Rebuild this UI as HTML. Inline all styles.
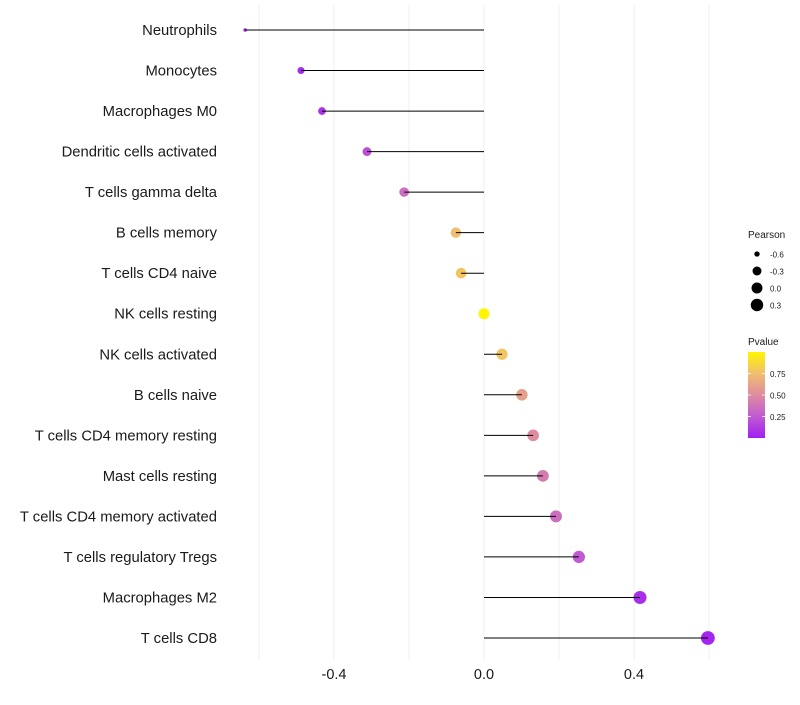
<!DOCTYPE html>
<html><head><meta charset="utf-8"><style>
body{margin:0;background:#fff;font-family:"Liberation Sans",sans-serif}
</style></head><body>
<svg id="c" width="800" height="700" xmlns="http://www.w3.org/2000/svg" font-family="Liberation Sans, sans-serif"></svg>
<script>
const categories=["Neutrophils","Monocytes","Macrophages M0","Dendritic cells activated","T cells gamma delta","B cells memory","T cells CD4 naive","NK cells resting","NK cells activated","B cells naive","T cells CD4 memory resting","Mast cells resting","T cells CD4 memory activated","T cells regulatory  Tregs","Macrophages M2","T cells CD8"];
const pearson=[-0.637,-0.488,-0.432,-0.312,-0.213,-0.075,-0.061,0.0,0.048,0.101,0.131,0.157,0.192,0.253,0.416,0.597];
const pvalues=[0.02,0.05,0.08,0.2,0.35,0.75,0.78,1.0,0.78,0.6,0.5,0.42,0.35,0.25,0.06,0.02];
const xTicks=[-0.4,0.0,0.4];
const gridVals=[-0.6,-0.4,-0.2,0,0.2,0.4,0.6];
const sizeLegend=[-0.6,-0.3,0.0,0.3];
const colorTicks=[0.25,0.5,0.75];

const NS="http://www.w3.org/2000/svg";
const svg=document.getElementById('c');
function mk(t,a,p){const e=document.createElementNS(NS,t);for(const k in a)e.setAttribute(k,a[k]);(p||svg).appendChild(e);return e;}
const xS=v=>484+v*375;
const yS=i=>30+i*(608/15);
const rS=v=>1.8+4.6*Math.sqrt(Math.max(0,v+0.637));
const stops=[[0,[160,32,240]],[0.25,[192,90,210]],[0.5,[222,140,160]],[0.75,[240,190,110]],[1,[255,245,0]]];
function col(p){for(let i=0;i<stops.length-1;i++){const[a,ca]=stops[i],[b,cb]=stops[i+1];if(p<=b){const t=(p-a)/(b-a);return `rgb(${ca.map((c,j)=>Math.round(c+(cb[j]-c)*t)).join(',')})`;}}return 'rgb(255,245,0)';}

gridVals.forEach(v=>{const g=mk('line',{x1:xS(v),x2:xS(v),y1:5,y2:660,stroke:'#efefef','stroke-width':1});

});
xTicks.forEach(v=>{const t=mk('text',{x:xS(v),y:679,'text-anchor':'middle','font-size':14.5,fill:'#1a1a1a'});t.textContent=v.toFixed(1);

});
categories.forEach((c,i)=>{const y=yS(i);
const t=mk('text',{x:217,y:y+5,'text-anchor':'end','font-size':14.8,fill:'#1a1a1a'});t.textContent=c;


const d=mk('circle',{cx:xS(pearson[i]),cy:y,r:rS(pearson[i]),fill:col(pvalues[i])});


const l=mk('line',{x1:xS(0),x2:xS(pearson[i]),y1:y,y2:y,stroke:'#000','stroke-width':1});

});
let t=mk('text',{x:748,y:238,'font-size':10,fill:'#1a1a1a'});t.textContent='Pearson';


sizeLegend.forEach((v,i)=>{const y=254+i*17;
const c=mk('circle',{cx:757,cy:y,r:rS(v),fill:'#000'});


const tt=mk('text',{x:770,y:y+3.5,'font-size':8,fill:'#1a1a1a'});tt.textContent=v.toFixed(1);

});
t=mk('text',{x:748,y:345,'font-size':10,fill:'#1a1a1a'});t.textContent='Pvalue';


const defs=mk('defs',{});const lg=mk('linearGradient',{id:'g',x1:0,y1:1,x2:0,y2:0},defs);
stops.forEach(s=>mk('stop',{offset:s[0],'stop-color':col(s[0])},lg));
const bar=mk('rect',{x:748,y:352,width:17,height:86,fill:'url(#g)'});


colorTicks.forEach(v=>{const y=438-v*86;
mk('line',{x1:748,x2:751,y1:y,y2:y,stroke:'#fff','stroke-width':0.8});
mk('line',{x1:762,x2:765,y1:y,y2:y,stroke:'#fff','stroke-width':0.8});
const tt=mk('text',{x:770,y:y+3.5,'font-size':8,fill:'#1a1a1a'});tt.textContent=v.toFixed(2);

});
</script>
</body></html>
